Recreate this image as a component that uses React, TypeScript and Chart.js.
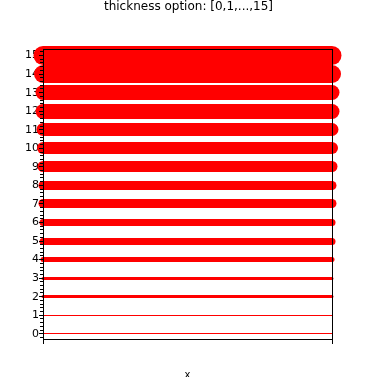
import React, { useEffect, useRef } from "react";
import { Chart, registerables } from "chart.js";

Chart.register(...registerables);

// ---- data ----
const TITLE = "thickness option: [0,1,...,15]";
const X_LABEL = "x";
const thicknessOptions = [0, 1, 2, 3, 4, 5, 6, 7, 8, 9, 10, 11, 12, 13, 14, 15];
const xValues = [0, 1];
const yTickLabels = ["0", "1", "2", "3", "4", "5", "6", "7", "8", "9", "10", "11", "12", "13", "14", "15"];

// ---- style ----
const Y_MIN = -0.28;
const Y_MAX = 15.353;
const lineWidthsPx = [1, 1, 3, 3, 5, 7, 7, 9, 9, 11, 12, 13, 15, 15, 18, 19];
const LINE_COLOR = "#ff0000";
const FONT = "'DejaVu Sans', sans-serif";

// snaps each horizontal stroke to the device pixel grid (rendering only)
const snapPlugin = {
  id: "pixelSnap",
  beforeDatasetDraw(chart: any, args: any) {
    const ds = chart.data.datasets[args.index];
    const py = chart.scales.y.getPixelForValue(ds.data[0].y);
    const w = ds.borderWidth;
    const target = w % 2 === 1 ? Math.floor(py) + 0.5 : Math.round(py);
    chart.ctx.save();
    chart.ctx.translate(0, target - py);
  },
  afterDatasetDraw(chart: any) {
    chart.ctx.restore();
  },
};

const framePlugin = {
  id: "frameTicks",
  afterDatasetsDraw(chart: any) {
    const { ctx, chartArea: a, scales } = chart;
    const y = scales.y;
    const x = scales.x;
    const L = Math.round(a.left);
    const R = Math.round(a.right);
    const T = Math.round(a.top);
    const B = Math.round(a.bottom);
    ctx.save();
    ctx.fillStyle = "#000";
    ctx.fillRect(L, T, R - L + 1, 1);
    ctx.fillRect(L, B, R - L + 1, 1);
    ctx.fillRect(L, T, 1, B - T + 1);
    ctx.fillRect(R, T, 1, B - T + 1);
    for (let k = Math.ceil(Y_MIN * 5); k <= Math.floor(Y_MAX * 5); k++) {
      const v = k / 5;
      const py = Math.floor(y.getPixelForValue(v));
      const len = k % 5 === 0 ? 4 : 3;
      ctx.fillRect(L - len, py, len, 1);
    }
    for (const v of xValues) {
      const px = Math.round(x.getPixelForValue(v));
      ctx.fillRect(Math.min(px, R), B, 1, 5);
    }
    ctx.restore();
  },
};

export default function App() {
  const ref = useRef<HTMLCanvasElement | null>(null);

  useEffect(() => {
    if (!ref.current) return;
    const datasets = thicknessOptions.map((t, i) => ({
      label: String(t),
      data: xValues.map((xv) => ({ x: xv, y: t })),
      borderColor: LINE_COLOR,
      backgroundColor: LINE_COLOR,
      borderWidth: lineWidthsPx[i],
      borderCapStyle: "round" as const,
      pointRadius: 0,
      pointHoverRadius: 0,
      fill: false,
      clip: false as any,
      yAxisID: "y",
    }));

    const chart = new Chart(ref.current, {
      type: "line",
      data: { datasets },
      plugins: [snapPlugin, framePlugin],
      options: {
        animation: false,
        responsive: false,
        devicePixelRatio: 1,
        events: [],
        layout: { padding: 0 },
        plugins: {
          legend: { display: false },
          tooltip: { enabled: false },
          title: {
            display: true,
            text: TITLE,
            color: "#000",
            font: { family: FONT, size: 12, weight: "normal" as any, lineHeight: 1.2 },
            padding: { top: 0, bottom: 34.6 },
          },
        },
        scales: {
          x: {
            type: "linear",
            position: "bottom",
            min: xValues[0],
            max: xValues[xValues.length - 1],
            grid: { display: false, drawTicks: false },
            border: { display: false },
            ticks: { display: false },
            title: {
              display: true,
              text: X_LABEL,
              color: "#000",
              font: { family: FONT, size: 10, lineHeight: 1 },
              padding: { top: 0, bottom: -3 },
            },
            afterFit: (s: any) => {
              s.height = 38;
            },
          },
          y: {
            type: "linear",
            position: "left",
            min: Y_MIN,
            max: Y_MAX,
            grid: { display: false, drawTicks: false },
            border: { display: false },
            afterBuildTicks: (s: any) => {
              s.ticks = thicknessOptions.map((v) => ({ value: v }));
            },
            ticks: {
              color: "#000",
              font: { family: FONT, size: 11 },
              padding: 4,
              autoSkip: false,
              callback: (_v: any, idx: number) => yTickLabels[idx],
            },
            afterFit: (s: any) => {
              s.width = 43;
            },
          },
          yRight: {
            type: "linear",
            position: "right",
            min: Y_MIN,
            max: Y_MAX,
            display: true,
            grid: { display: false, drawTicks: false },
            border: { display: false },
            ticks: { display: false },
            afterFit: (s: any) => {
              s.width = 45;
            },
          },
        },
      },
    });
    return () => chart.destroy();
  }, []);

  return (
    <div style={{ position: "absolute", left: 0, top: 0, width: 377, height: 377, background: "#fff" }}>
      <canvas ref={ref} width={377} height={377} style={{ display: "block", width: 377, height: 377 }} />
    </div>
  );
}
